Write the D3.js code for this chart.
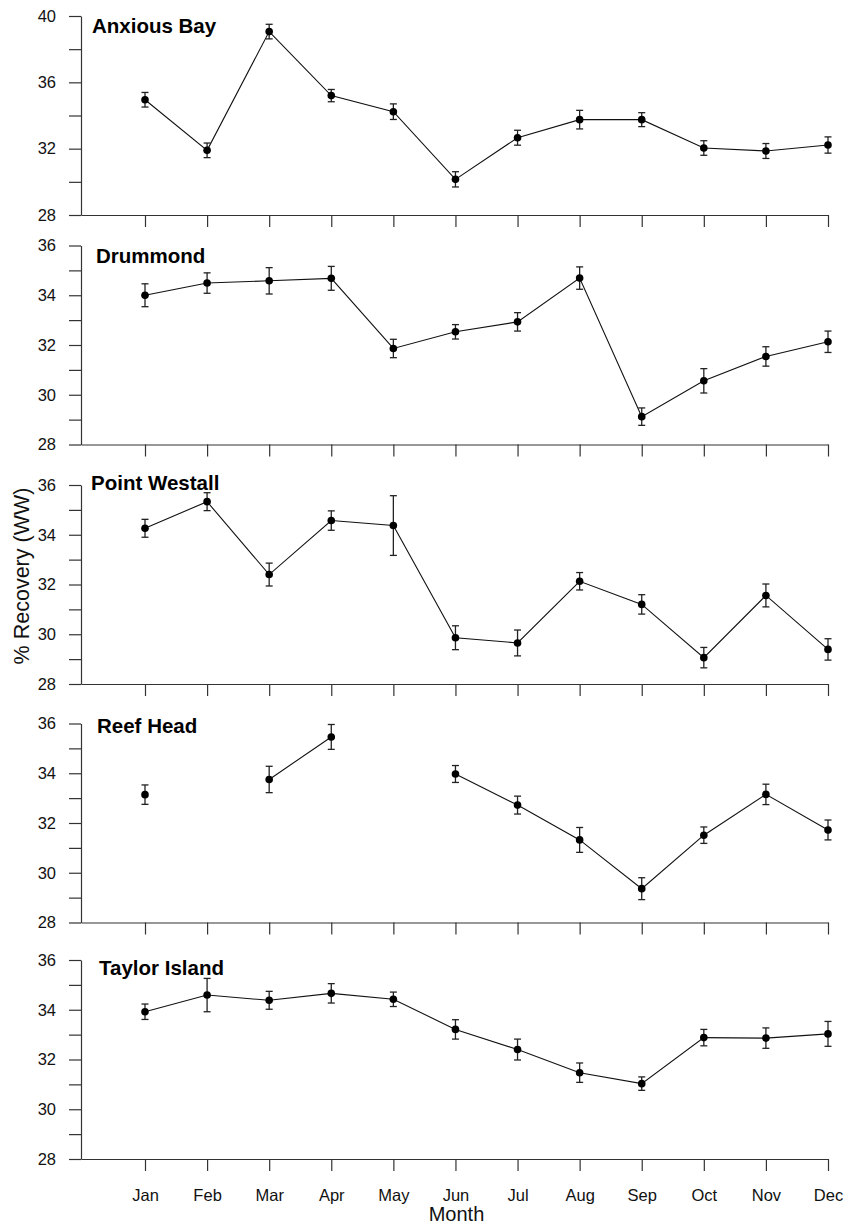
<!DOCTYPE html>
<html>
<head>
<meta charset="utf-8">
<script src="https://cdn.jsdelivr.net/npm/d3@7/dist/d3.min.js"></script>
<style>
  html, body { margin: 0; padding: 0; background: #fff; }
  svg { display: block; font-family: Arial, "Liberation Sans", sans-serif; }
</style>
</head>
<body>
<svg id="chart" width="846" height="1225"></svg>
<script>
// ---------------- data ----------------
const months = ["Jan","Feb","Mar","Apr","May","Jun","Jul","Aug","Sep","Oct","Nov","Dec"];
const sites = ["Anxious Bay","Drummond","Point Westall","Reef Head","Taylor Island"];

const anxiousBay    = [34.95, 31.90, 39.06, 35.20, 34.23, 30.15, 32.66, 33.75, 33.75, 32.04, 31.86, 32.22];
const anxiousBayErr = [0.44, 0.44, 0.44, 0.37, 0.47, 0.46, 0.45, 0.56, 0.42, 0.44, 0.45, 0.49];

const drummond      = [34.00, 34.49, 34.58, 34.68, 31.86, 32.53, 32.93, 34.69, 29.12, 30.56, 31.54, 32.13];
const drummondErr   = [0.46, 0.41, 0.53, 0.48, 0.37, 0.29, 0.37, 0.45, 0.35, 0.49, 0.39, 0.43];

const pointWestall    = [34.26, 35.33, 32.40, 34.57, 34.37, 29.86, 29.65, 32.13, 31.20, 29.06, 31.56, 29.39];
const pointWestallErr = [0.36, 0.36, 0.46, 0.39, 1.20, 0.48, 0.52, 0.35, 0.39, 0.41, 0.46, 0.43];

const reefHead      = [33.14, null, 33.75, 35.46, null, 33.97, 32.72, 31.32, 29.36, 31.51, 33.15, 31.72];
const reefHeadErr   = [0.39, null, 0.53, 0.50, null, 0.34, 0.36, 0.50, 0.44, 0.33, 0.41, 0.40];

const taylorIsland    = [33.92, 34.59, 34.38, 34.66, 34.42, 33.21, 32.40, 31.47, 31.03, 32.88, 32.86, 33.03];
const taylorIslandErr = [0.31, 0.67, 0.36, 0.39, 0.29, 0.39, 0.42, 0.39, 0.27, 0.33, 0.41, 0.50];

const seriesValues = [anxiousBay, drummond, pointWestall, reefHead, taylorIsland];
const seriesErrors = [anxiousBayErr, drummondErr, pointWestallErr, reefHeadErr, taylorIslandErr];

const yDomains     = [[28, 40], [28, 36], [28, 36], [28, 36], [28, 36]];
const yTickValues  = [[28,30,32,34,36,38,40], [28,29,30,31,32,33,34,35,36], [28,29,30,31,32,33,34,35,36], [28,29,30,31,32,33,34,35,36], [28,29,30,31,32,33,34,35,36]];
const yTickLabels  = [[28,32,36,40], [28,30,32,34,36], [28,30,32,34,36], [28,30,32,34,36], [28,30,32,34,36]];

const yAxisTitle = "% Recovery (WW)";
const xAxisTitle = "Month";

// ---------------- layout (not data) ----------------
const panelTops    = [16, 245.5, 485, 723.5, 960];
const panelHeight  = 199;
const titleOffsets = [[92, 17], [96, 17], [91, 5], [97, 9], [99, 15]];
const xLeft = 81, xJan = 145, xDec = 828;

const svg = d3.select("#chart");

const xMonth = d3.scaleLinear().domain([1, 12]).range([xJan, xDec]);
const x = d3.scaleLinear().domain([xMonth.invert(xLeft), 12]).range([xLeft, xDec]);
const axisColor = "#333";
const fontFam = "Arial, 'Liberation Sans', sans-serif";

sites.forEach((site, i) => {
  const top = panelTops[i];
  const bottom = top + panelHeight;
  const y = d3.scaleLinear().domain(yDomains[i]).range([bottom, top]);
  const g = svg.append("g");

  // y axis
  const labelSet = new Set(yTickLabels[i]);
  const yAxis = d3.axisLeft(y)
    .tickValues(yTickValues[i])
    .tickSize(12)
    .tickSizeOuter(0)
    .tickPadding(13)
    .tickFormat(d => labelSet.has(d) ? String(d) : "");
  const ya = g.append("g").attr("transform", `translate(${xLeft},0)`).call(yAxis);
  ya.selectAll("text").attr("font-size", 16.5).attr("fill", "#111").style("font-family", fontFam);

  // x axis
  const isLast = i === sites.length - 1;
  const xAxis = d3.axisBottom(x)
    .tickValues(d3.range(1, 13))
    .tickSize(12)
    .tickSizeOuter(0)
    .tickPadding(18)
    .tickFormat(d => isLast ? months[d - 1] : "");
  const xa = g.append("g").attr("transform", `translate(0,${bottom})`).call(xAxis);
  xa.selectAll("text").attr("font-size", 16.5).attr("fill", "#111").style("font-family", fontFam);

  [ya, xa].forEach(a => {
    a.selectAll("path.domain").attr("stroke", axisColor).attr("stroke-width", 1.2);
    a.selectAll(".tick line").attr("stroke", axisColor).attr("stroke-width", 1.2);
  });

  // data
  const pts = seriesValues[i].map((v, k) => ({ m: k + 1, v: v, e: seriesErrors[i][k] }));

  const line = d3.line()
    .defined(d => d.v != null)
    .x(d => x(d.m))
    .y(d => y(d.v));
  g.append("path")
    .datum(pts)
    .attr("fill", "none")
    .attr("stroke", "#111")
    .attr("stroke-width", 1.1)
    .attr("d", line);

  const valid = pts.filter(d => d.v != null);
  const eb = g.append("g").attr("stroke", "#222").attr("stroke-width", 1.3);
  eb.selectAll("line.v").data(valid).join("line")
    .attr("x1", d => x(d.m)).attr("x2", d => x(d.m))
    .attr("y1", d => y(d.v - d.e)).attr("y2", d => y(d.v + d.e));
  eb.selectAll("line.t").data(valid).join("line")
    .attr("x1", d => x(d.m) - 3.5).attr("x2", d => x(d.m) + 3.5)
    .attr("y1", d => y(d.v + d.e)).attr("y2", d => y(d.v + d.e));
  eb.selectAll("line.b").data(valid).join("line")
    .attr("x1", d => x(d.m) - 3.5).attr("x2", d => x(d.m) + 3.5)
    .attr("y1", d => y(d.v - d.e)).attr("y2", d => y(d.v - d.e));

  g.selectAll("circle").data(valid).join("circle")
    .attr("cx", d => x(d.m))
    .attr("cy", d => y(d.v))
    .attr("r", 3.8)
    .attr("fill", "#000");

  // panel title
  g.append("text")
    .attr("x", titleOffsets[i][0])
    .attr("y", top + titleOffsets[i][1])
    .attr("font-size", 20.5)
    .attr("font-weight", "bold")
    .attr("fill", "#000")
    .text(site);
});

// axis titles
svg.append("text")
  .attr("transform", `translate(29,576) rotate(-90)`)
  .attr("text-anchor", "middle")
  .attr("font-size", 21.5)
  .attr("fill", "#111")
  .text(yAxisTitle);

svg.append("text")
  .attr("x", (xLeft + xDec) / 2 + 2)
  .attr("y", 1221)
  .attr("text-anchor", "middle")
  .attr("font-size", 20)
  .attr("fill", "#111")
  .text(xAxisTitle);
</script>
</body>
</html>
